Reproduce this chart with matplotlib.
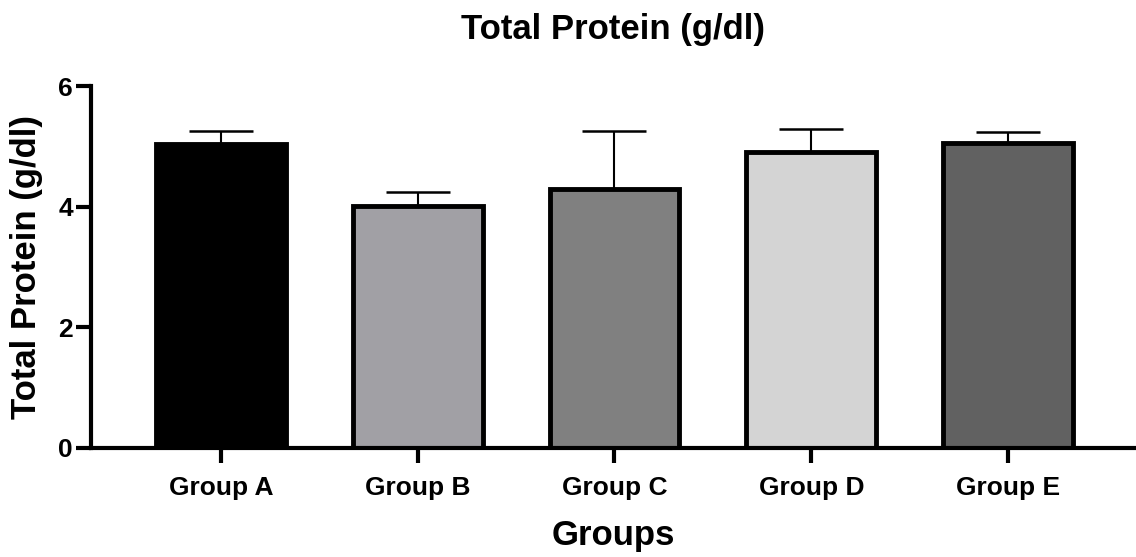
import numpy as np
import matplotlib.pyplot as plt

# Datos
groups = ['Group A', 'Group B', 'Group C', 'Group D', 'Group E']
means = [5.04, 4.01, 4.30, 4.91, 5.05]
errors = [0.22, 0.24, 0.96, 0.38, 0.19]
colors = ['#000000', '#a1a0a5', '#808080', '#d4d4d4', '#616161']

plt.rcParams['font.family'] = ['Liberation Sans', 'DejaVu Sans']
plt.rcParams['font.weight'] = 'bold'

fig = plt.figure(figsize=(11.36, 5.57), dpi=100)
ax = fig.add_axes([0.0801, 0.1957, 0.9199, 0.6499])

x = np.arange(len(groups))

# Barras de error (solo hacia arriba)
ax.errorbar(x, means, yerr=[np.zeros(len(means)), errors], fmt='none',
            ecolor='black', elinewidth=1.5, capsize=23, capthick=1.8, zorder=1)

# Barras
ax.bar(x, means, width=0.66, color=colors, edgecolor='black',
       linewidth=3.5, zorder=2)

# Ejes
ax.set_xlim(-0.66, 4.65)
ax.set_ylim(0, 6)
ax.set_yticks([0, 2, 4, 6])
ax.set_xticks(x)
ax.set_xticklabels(groups, fontsize=19, fontweight='bold')
ax.tick_params(axis='y', labelsize=19, width=3, length=11, pad=2)
ax.tick_params(axis='x', width=3, length=11, pad=9)
for lab in ax.get_yticklabels():
    lab.set_fontweight('bold')

for s in ['top', 'right']:
    ax.spines[s].set_visible(False)
for s in ['left', 'bottom']:
    ax.spines[s].set_linewidth(3)

ax.set_xlabel('Groups', fontsize=25, fontweight='bold', labelpad=14)
ax.set_ylabel('Total Protein (g/dl)', fontsize=25, fontweight='bold', labelpad=11)
ax.set_title('Total Protein (g/dl)', fontsize=25, fontweight='bold', pad=34)

fig.savefig('out.png', dpi=100)
